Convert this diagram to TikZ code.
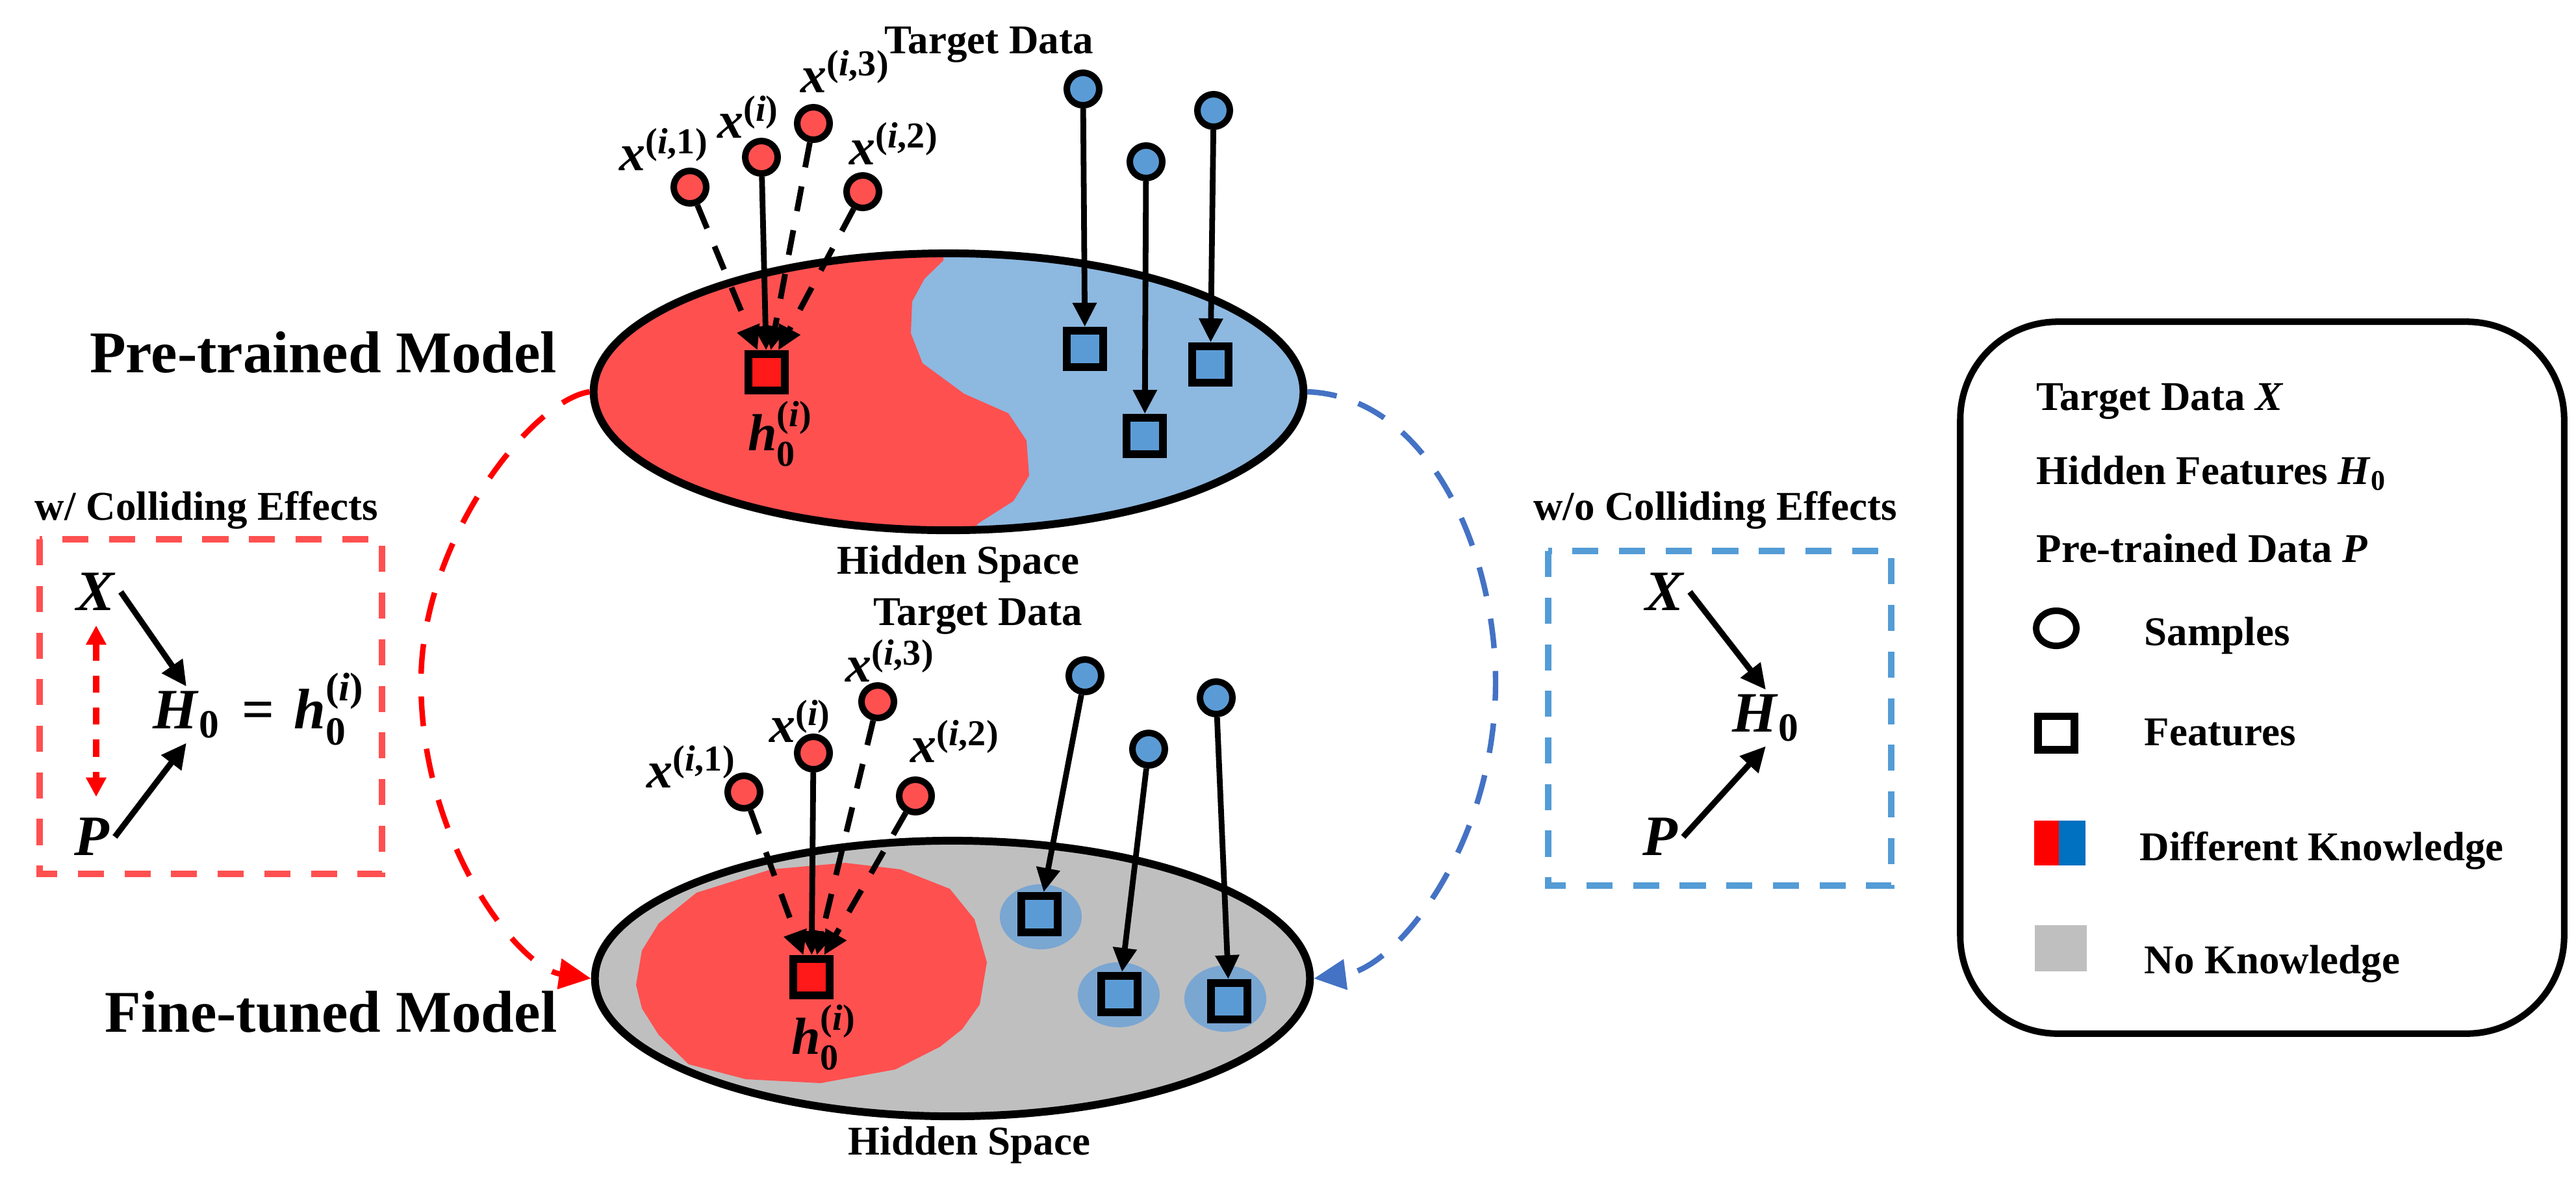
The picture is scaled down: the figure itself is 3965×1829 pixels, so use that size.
\documentclass[tikz,border=0pt]{standalone}
\usepackage{fontspec}
\setmainfont{Liberation Serif}
\usepackage{amsmath}
\usetikzlibrary{arrows.meta,shapes.geometric}
\definecolor{kred}{RGB}{255,80,80}
\definecolor{kblue}{RGB}{141,184,224}
\definecolor{sqred}{RGB}{255,25,25}
\definecolor{cblue}{RGB}{91,155,213}
\definecolor{kgray}{RGB}{191,191,191}
\definecolor{halo}{RGB}{122,166,210}
\definecolor{boxred}{RGB}{255,80,80}
\definecolor{arrred}{RGB}{255,0,0}
\definecolor{boxblue}{RGB}{84,156,214}
\definecolor{arcblue}{RGB}{68,114,196}
\definecolor{legblue}{RGB}{0,112,192}
\newcommand{\bi}[1]{\textbf{\textit{#1}}}
\newcommand{\bu}[1]{\textbf{#1}}
\newcommand{\xs}[1]{$\bi{x}^{\bu{(}\bi{i}\bu{#1)}}$}
\newcommand{\hs}{$\bi{h}_{\bu{0}}^{\bu{(}\bi{i}\bu{)}}$}
\tikzset{
  samp/.style={circle, draw=black, line width=2.85pt, minimum size=0.5cm, inner sep=0pt},
  feat/.style={rectangle, draw=black, line width=3.4pt, minimum size=0.56cm, inner sep=0pt},
  solidarr/.style={draw=black, line width=2.5pt, -{Triangle[length=10.5pt,width=10pt]}},
  dasharr/.style={solidarr, dash pattern=on 11pt off 8.5pt},
  blkarr/.style={draw=black, line width=2.6pt, -{Triangle[length=11pt,width=10.5pt]}},
  reddbl/.style={draw=arrred, line width=2.8pt, dash pattern=on 7.5pt off 6.5pt, {Triangle[length=8.5pt,width=8.5pt]}-{Triangle[length=8.5pt,width=8.5pt]}},
  redarc/.style={draw=arrred, line width=2.4pt, dash pattern=on 13pt off 10pt, -{Triangle[length=14pt,width=13pt]}},
  bluearc/.style={draw=arcblue, line width=2.4pt, dash pattern=on 13pt off 10pt, -{Triangle[length=14pt,width=13pt]}},
  ttl/.style={font=\fontsize{25.9pt}{30pt}\selectfont\bfseries, inner sep=0pt},
  lbl/.style={font=\fontsize{17.9pt}{21pt}\selectfont\bfseries, inner sep=0pt},
  slbl/.style={font=\fontsize{22.8pt}{27pt}\selectfont, inner sep=0pt},
  mlbl/.style={font=\fontsize{25pt}{30pt}\selectfont, inner sep=2pt},
  hspace/.style={ellipse, draw=black, line width=3.4pt, inner sep=0pt, minimum width=10.92cm, minimum height=4.26cm},
}
\begin{document}
\begin{tikzpicture}[x=0.01cm, y=-0.01cm]
\fill[white] (0,0) rectangle (3965,1829);
\useasboundingbox (0,0) rectangle (3965,1829);

% ---------- top hidden space ----------
\begin{scope}
  \clip (1460,603) ellipse [x radius=5.46cm, y radius=2.13cm];
  \fill[kblue] (900,380) rectangle (2020,830);
  \fill[kred] (900,380) -- (1452,380) -- (1452,401) -- (1423,429) -- (1404,464) -- (1402,513) -- (1420,559) -- (1484,606) -- (1552,636) -- (1580,678) -- (1584,732) -- (1560,771) -- (1505,806) -- (1490,830) -- (900,830) -- cycle;
\end{scope}
\node[hspace] (E1) at (1460,603) {};

% ---------- bottom hidden space ----------
\begin{scope}
  \clip (1466,1506) ellipse [x radius=5.5cm, y radius=2.12cm];
  \fill[kgray] (900,1280) rectangle (2030,1730);
  \fill[kred] (988,1463) -- (1014,1421) -- (1072,1374) -- (1187,1338) -- (1301,1328) -- (1386,1338) -- (1462,1368) -- (1500,1415) -- (1519,1481) -- (1508,1546) -- (1481,1584) -- (1447,1611) -- (1378,1646) -- (1263,1667) -- (1148,1661) -- (1060,1638) -- (1014,1593) -- (988,1552) -- (979,1516) -- cycle;
  \fill[halo] (1602,1411) ellipse [x radius=0.63cm, y radius=0.5cm];
  \fill[halo] (1722,1531) ellipse [x radius=0.63cm, y radius=0.5cm];
  \fill[halo] (1886,1537) ellipse [x radius=0.63cm, y radius=0.51cm];
\end{scope}
\node[hspace, minimum width=11.0cm, minimum height=4.24cm] (E2) at (1466,1506) {};

% ---------- top samples and features ----------
\node[feat, fill=sqred] (ts0) at (1180,573) {};
\node[feat, fill=cblue] (ts1) at (1670,537) {};
\node[feat, fill=cblue] (ts2) at (1762,671) {};
\node[feat, fill=cblue] (ts3) at (1863,561) {};
\node[samp, fill=kred] (ta1) at (1062,288) {};
\node[samp, fill=kred] (ta0) at (1172,242) {};
\node[samp, fill=kred] (ta3) at (1252,190) {};
\node[samp, fill=kred] (ta2) at (1328,295) {};
\node[samp, fill=cblue] (tb1) at (1667,137) {};
\node[samp, fill=cblue] (tb2) at (1764,249) {};
\node[samp, fill=cblue] (tb3) at (1868,170) {};
\draw[dasharr] (ta1) -- (ts0);
\draw[dasharr] (ta3) -- (ts0);
\draw[dasharr] (ta2) -- (ts0);
\draw[solidarr] (ta0) -- (ts0);
\draw[solidarr] (tb1) -- (ts1);
\draw[solidarr] (tb2) -- (ts2);
\draw[solidarr] (tb3) -- (ts3);
\node[slbl] (tl1) at (1022,230) {\xs{,1}};
\node[slbl] (tl0) at (1152,180) {\xs{}};
\node[slbl] (tl3) at (1301,110) {\xs{,3}};
\node[slbl] (tl2) at (1376,221) {\xs{,2}};
\node[slbl] (th) at (1201,668) {\hs};
\node[lbl, anchor=base] (td1) at (1522,82) {Target Data};
\node[lbl, anchor=base] (hs1) at (1475,883) {Hidden Space};

% ---------- bottom samples and features ----------
\node[feat, fill=sqred] (bs0) at (1249,1504) {};
\node[feat, fill=cblue] (bs1) at (1600,1407) {};
\node[feat, fill=cblue] (bs2) at (1723,1530) {};
\node[feat, fill=cblue] (bs3) at (1892,1541) {};
\node[samp, fill=kred] (ba1) at (1145,1219) {};
\node[samp, fill=kred] (ba0) at (1252,1159) {};
\node[samp, fill=kred] (ba3) at (1351,1080) {};
\node[samp, fill=kred] (ba2) at (1409,1225) {};
\node[samp, fill=cblue] (bb1) at (1670,1040) {};
\node[samp, fill=cblue] (bb2) at (1768,1153) {};
\node[samp, fill=cblue] (bb3) at (1872,1074) {};
\draw[dasharr] (ba1) -- (bs0);
\draw[dasharr] (ba3) -- (bs0);
\draw[dasharr] (ba2) -- (bs0);
\draw[solidarr] (ba0) -- (bs0);
\draw[solidarr] (bb1) -- (bs1);
\draw[solidarr] (bb2) -- (bs2);
\draw[solidarr] (bb3) -- (bs3);
\node[slbl] (bl1) at (1064,1180) {\xs{,1}};
\node[slbl] (bl0) at (1232,1110) {\xs{}};
\node[slbl] (bl3) at (1370,1017) {\xs{,3}};
\node[slbl] (bl2) at (1470,1141) {\xs{,2}};
\node[slbl] (bh) at (1268,1597) {\hs};
\node[lbl, anchor=base] (td2) at (1505,962) {Target Data};
\node[lbl, anchor=base] (hs2) at (1492,1777) {Hidden Space};

% ---------- titles ----------
\node[ttl, anchor=base east] (pm) at (858,573) {Pre-trained Model};
\node[ttl, anchor=base east] (fm) at (858,1588) {Fine-tuned Model};

% ---------- arcs ----------
\draw[redarc] (E1.west) .. controls (820,615) and (648,830) .. (648,1050) .. controls (648,1300) and (800,1490) .. (E2.west);
\draw[bluearc] (E1.east) .. controls (2200,610) and (2302,850) .. (2302,1050) .. controls (2302,1300) and (2150,1490) .. (E2.east);

% ---------- left box ----------
\node[lbl, anchor=base] (wc) at (318,800) {w/ Colliding Effects};
\draw[boxred, line width=2.6pt, dash pattern=on 11.4pt off 9pt] (61,830) rectangle (588,1345);
\node[mlbl] (X1) at (148,911) {\bi{X}};
\node[mlbl] (P1) at (142,1288) {\bi{P}};
\node[mlbl] (H1) at (287,1100) {$\bi{H}_{\bu{0}}$};
\node[mlbl, anchor=base west, inner sep=0pt] (H1r) at ([xshift=0.25cm]H1.base east) {\bu{=}\hspace{0.3cm}\hs};
\draw[blkarr] (X1.east) -- (H1.north);
\draw[blkarr] (P1.east) -- (H1.south);
\draw[reddbl, shorten <=0.15cm, shorten >=0.25cm] (X1.south) -- (X1.south |- P1.north);

% ---------- right box ----------
\node[lbl, anchor=base] (woc) at (2640,800) {w/o Colliding Effects};
\draw[boxblue, line width=2.6pt, dash pattern=on 11.4pt off 9pt] (2383,848) rectangle (2911,1363);
\node[mlbl] (X2) at (2563,911) {\bi{X}};
\node[mlbl] (P2) at (2556,1288) {\bi{P}};
\node[mlbl] (H2) at (2718,1105) {$\bi{H}_{\bu{0}}$};
\draw[blkarr] (X2.east) -- (H2.north);
\draw[blkarr] (P2.east) -- (H2.south);

% ---------- legend ----------
\node[draw=black, line width=2.85pt, rounded corners=1.5cm, minimum width=9.29cm, minimum height=10.95cm, inner sep=0pt] (leg) at (3482,1043) {};
\node[lbl, anchor=base west] (lg1) at (3134,631) {Target Data \bi{X}};
\node[lbl, anchor=base west] (lg2) at (3134,745) {Hidden Features $\bi{H}_{\bu{0}}$};
\node[lbl, anchor=base west] (lg3) at (3134,865) {Pre-trained Data \bi{P}};
\node[ellipse, draw=black, line width=2.85pt, minimum width=0.62cm, minimum height=0.54cm, inner sep=0pt] (lgc) at (3165,967) {};
\node[lbl, anchor=base west] (lg4) at (3300,993) {Samples};
\node[rectangle, draw=black, line width=3.4pt, minimum width=0.56cm, minimum height=0.51cm, inner sep=0pt] (lgs) at (3165,1128) {};
\node[lbl, anchor=base west] (lg5) at (3300,1147) {Features};
\fill[arrred] (3131,1263) rectangle (3169,1332);
\fill[legblue] (3169,1263) rectangle (3210,1332);
\node[lbl, anchor=base west] (lg6) at (3293,1324) {Different Knowledge};
\fill[kgray] (3132,1424) rectangle (3212,1495);
\node[lbl, anchor=base west] (lg7) at (3300,1498) {No Knowledge};
\end{tikzpicture}
\end{document}
